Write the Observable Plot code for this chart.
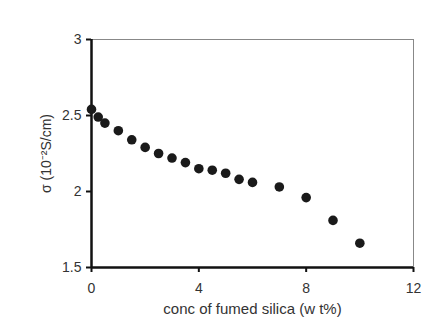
<!DOCTYPE html>
<html>
<head>
<meta charset="utf-8">
<script src="https://cdn.jsdelivr.net/npm/d3@7"></script>
<script src="https://cdn.jsdelivr.net/npm/@observablehq/plot@0.6"></script>
<style>
  html, body { margin: 0; padding: 0; background: #fff; }
</style>
</head>
<body>
<div id="chart"></div>
<script>
const conc = [0, 0.25, 0.5, 1, 1.5, 2, 2.5, 3, 3.5, 4, 4.5, 5, 5.5, 6, 7, 8, 9, 10];
const sigma = [2.54, 2.49, 2.45, 2.40, 2.34, 2.29, 2.25, 2.22, 2.19, 2.15, 2.14, 2.12, 2.08, 2.06, 2.03, 1.96, 1.81, 1.66];
const xTicks = [0, 4, 8, 12];
const yTicks = [1.5, 2, 2.5, 3];
const xLabel = "conc of fumed silica (w t%)";
const yLabel = "σ (10⁻²S/cm)";

const data = conc.map((c, i) => ({conc: c, sigma: sigma[i]}));

const chart = Plot.plot({
  width: 445,
  height: 319,
  marginLeft: 91,
  marginRight: 32,
  marginTop: 39,
  marginBottom: 52,
  style: {fontFamily: "Liberation Sans, Arial, sans-serif", fontSize: "14px", color: "#222", background: "#fff"},
  x: {domain: [0, 12]},
  y: {domain: [1.5, 3]},
  marks: [
    Plot.frame({stroke: "#888", strokeWidth: 1}),
    Plot.ruleX([0], {stroke: "#111", strokeWidth: 2.5}),
    Plot.ruleY([1.5], {stroke: "#111", strokeWidth: 2.5}),
    Plot.axisX({ticks: xTicks, tickSize: 5, tickPadding: 11, strokeWidth: 2, stroke: "#111", fontSize: 14, fill: "#333",
      tickFormat: d => String(d), label: null}),
    Plot.axisX({ticks: [], label: xLabel, labelAnchor: "center", labelArrow: "none", labelOffset: 46, fontSize: 15, fill: "#333"}),
    Plot.axisY({ticks: yTicks, tickSize: 5, tickPadding: 5, strokeWidth: 2, stroke: "#111", fontSize: 14, fill: "#333",
      tickFormat: d => String(d), label: yLabel, labelAnchor: "center", labelArrow: "none", labelOffset: 50}),
    Plot.dot(data, {x: "conc", y: "sigma", r: 4.8, fill: "#1a1a1a", stroke: "none"})
  ]
});
document.getElementById("chart").appendChild(chart);
</script>
</body>
</html>
